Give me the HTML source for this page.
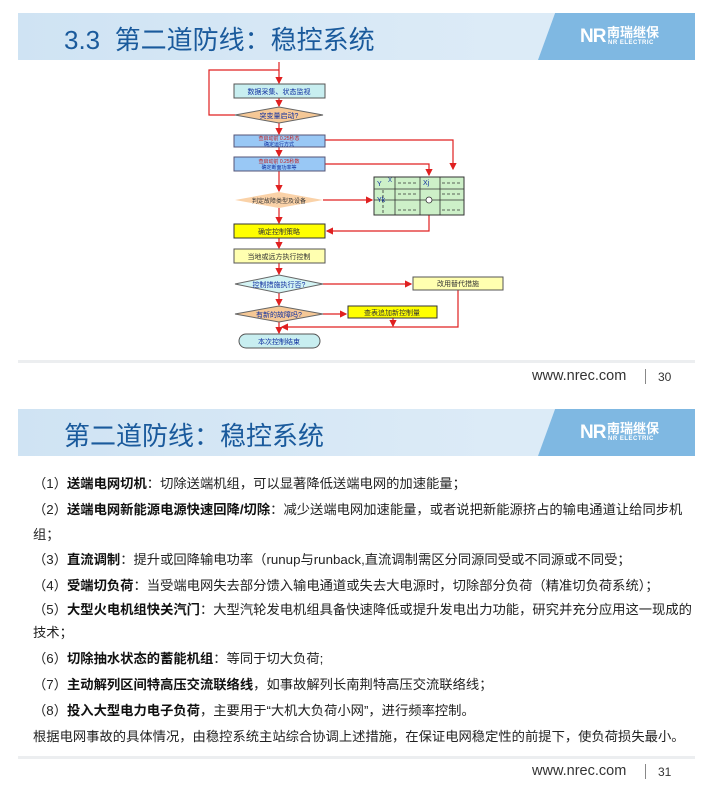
<!DOCTYPE html><html><head><meta charset="utf-8"><style>
body{margin:0;width:717px;height:796px;background:#fff;position:relative;overflow:hidden;font-family:"Liberation Sans","Noto Sans CJK SC",sans-serif}
.hdr{position:absolute;left:18px;width:677px;height:47px;background:linear-gradient(90deg,#cfe3f3,#dcebf7 70%);overflow:hidden}
.hdr .dk{position:absolute;left:520px;top:0;width:200px;height:47px;background:#7fb8e2;transform:skewX(-20deg);transform-origin:0 100%}
.hdr .t{position:absolute;left:46px;top:7px;font-size:26px;color:#1a5a9c;white-space:nowrap}
.logo{position:absolute;left:562px;top:13px;color:#fff;font-weight:bold;line-height:1}
.logo .nr{font-size:19px;position:absolute;left:0;top:1px;letter-spacing:-1px}
.logo .cn{font-size:13px;position:absolute;left:27px;top:0;white-space:nowrap}
.logo .en{font-size:6px;position:absolute;left:28px;top:14px;white-space:nowrap;letter-spacing:.5px}
.foot{position:absolute;font-size:14.5px;color:#333}
.sep{position:absolute;width:1px;height:15px;background:#888}
.ln{position:absolute;height:3px;background:#eceef0;left:18px;width:677px}
.tx{position:absolute;left:33px;font-size:13.3px;color:#222;white-space:nowrap}
.tx b{color:#111}
</style></head><body>
<div class="hdr" style="top:13px"><div class="dk"></div><div class="t">3.3&nbsp; 第二道防线：稳控系统</div><div class="logo"><span class="nr">NR</span><span class="cn">南瑞继保</span><span class="en">NR ELECTRIC</span></div></div>
<svg style="position:absolute;left:0;top:0" width="717" height="360" font-family="Liberation Sans,Noto Sans CJK SC,sans-serif" font-size="7">
<defs><marker id="a" markerWidth="6" markerHeight="6" refX="5" refY="3" orient="auto"><path d="M0,0L6,3L0,6z" fill="#e02020"/></marker></defs>
<g stroke="#e02020" stroke-width="1.2" fill="none">
<path d="M279,62V83" marker-end="url(#a)"/>
<path d="M235,115H209V70H279"/>
<path d="M279,98V106" marker-end="url(#a)"/>
<path d="M279,123V134" marker-end="url(#a)"/>
<path d="M279,147V156" marker-end="url(#a)"/>
<path d="M279,171V191" marker-end="url(#a)"/>
<path d="M279,208V223" marker-end="url(#a)"/>
<path d="M279,238V248" marker-end="url(#a)"/>
<path d="M279,263V274" marker-end="url(#a)"/>
<path d="M279,293V305" marker-end="url(#a)"/>
<path d="M279,322V333" marker-end="url(#a)"/>
<path d="M325,140H453V169" marker-end="url(#a)"/>
<path d="M325,164H429V175" marker-end="url(#a)"/>
<path d="M323,200H372" marker-end="url(#a)"/>
<path d="M429,203V231H327" marker-end="url(#a)"/>
<path d="M323,284H411" marker-end="url(#a)"/>
<path d="M323,314H346" marker-end="url(#a)"/>
<path d="M458,290V327H282" marker-end="url(#a)"/>
<path d="M393,318V326" marker-end="url(#a)"/>
</g>
<rect x="234" y="84" width="91" height="14" fill="#c8eef0" stroke="#555"/><text x="279" y="94" text-anchor="middle" fill="#1030a0">数据采集、状态监视</text>
<path d="M235,115L279,107L323,115L279,123z" fill="#f5c896" stroke="#666"/><text x="279" y="118" text-anchor="middle" fill="#1030a0">突变量启动?</text>
<rect x="234" y="135" width="91" height="12" fill="#99c8f5" stroke="#557"/><text x="279" y="140" text-anchor="middle" font-size="5" fill="#c02020">查启动前 0.25秒态</text><text x="279" y="146" text-anchor="middle" font-size="5" fill="#1030a0">确定运行方式</text>
<rect x="234" y="157" width="91" height="14" fill="#99c8f5" stroke="#557"/><text x="279" y="163" text-anchor="middle" font-size="5" fill="#c02020">查启动前 0.25秒数</text><text x="279" y="169" text-anchor="middle" font-size="5" fill="#1030a0">确定断面功率等</text>
<path d="M235,200L279,192L323,200L279,208z" fill="#fad2a8"/><text x="279" y="203" text-anchor="middle" font-size="6" fill="#333">判定故障类型及设备</text>
<rect x="374" y="177" width="90" height="38" fill="#cdf0c8" stroke="#333"/>
<g stroke="#333" stroke-width=".8"><path d="M395,177V215M420,177V215M440,177V215M374,189H464M374,200H464"/></g>
<g stroke="#333" stroke-dasharray="3,2" stroke-width=".8"><path d="M398,183H418M442,183H462M398,194H418M442,194H462M398,210H418M442,210H462M383,190V215"/></g>
<text x="377" y="186" fill="#1030a0">Y</text><text x="388" y="182" fill="#1030a0" font-size="6">X</text><text x="423" y="185" fill="#1030a0">Xj</text><text x="377" y="202" fill="#1030a0">Yk</text>
<circle cx="429" cy="200" r="3" fill="#fff" stroke="#333" stroke-width=".8"/>
<rect x="234" y="224" width="91" height="14" fill="#ffff00" stroke="#333"/><text x="279" y="234" text-anchor="middle" fill="#333">确定控制策略</text>
<rect x="234" y="249" width="91" height="14" fill="#ffffb0" stroke="#555"/><text x="279" y="259" text-anchor="middle" fill="#333">当地或远方执行控制</text>
<path d="M235,284L279,275L323,284L279,293z" fill="#d4f4f4" stroke="#666"/><text x="279" y="287" text-anchor="middle" fill="#1030a0">控制措施执行否?</text>
<rect x="413" y="277" width="90" height="13" fill="#ffffb0" stroke="#555"/><text x="458" y="286" text-anchor="middle" fill="#333">改用替代措施</text>
<path d="M235,314L279,306L323,314L279,322z" fill="#f5c896" stroke="#666"/><text x="279" y="317" text-anchor="middle" fill="#1030a0">有新的故障吗?</text>
<rect x="348" y="306" width="89" height="12" fill="#ffff00" stroke="#333"/><text x="392" y="315" text-anchor="middle" fill="#333">查表追加新控制量</text>
<rect x="239" y="334" width="81" height="14" rx="7" fill="#c8eef0" stroke="#555"/><text x="279" y="344" text-anchor="middle" fill="#1030a0">本次控制结束</text>
</svg>
<div class="ln" style="top:360px"></div>
<div class="foot" style="left:532px;top:368px">www.nrec.com</div><div class="sep" style="left:645px;top:369px"></div><div class="foot" style="left:658px;top:370px;font-size:12px">30</div>
<div class="hdr" style="top:409px"><div class="dk"></div><div class="t">第二道防线：稳控系统</div><div class="logo"><span class="nr">NR</span><span class="cn">南瑞继保</span><span class="en">NR ELECTRIC</span></div></div>
<div class="tx" style="top:473px">（1）<b>送端电网切机</b>：切除送端机组，可以显著降低送端电网的加速能量；</div>
<div class="tx" style="top:499px">（2）<b>送端电网新能源电源快速回降/切除</b>：减少送端电网加速能量，或者说把新能源挤占的输电通道让给同步机</div>
<div class="tx" style="top:524px">组；</div>
<div class="tx" style="top:549px">（3）<b>直流调制</b>：提升或回降输电功率（runup与runback,直流调制需区分同源同受或不同源或不同受；</div>
<div class="tx" style="top:575px">（4）<b>受端切负荷</b>：当受端电网失去部分馈入输电通道或失去大电源时，切除部分负荷（精准切负荷系统）；</div>
<div class="tx" style="top:599px">（5）<b>大型火电机组快关汽门</b>：大型汽轮发电机组具备快速降低或提升发电出力功能，研究并充分应用这一现成的</div>
<div class="tx" style="top:622px">技术；</div>
<div class="tx" style="top:648px">（6）<b>切除抽水状态的蓄能机组</b>：等同于切大负荷;</div>
<div class="tx" style="top:674px">（7）<b>主动解列区间特高压交流联络线</b>，如事故解列长南荆特高压交流联络线；</div>
<div class="tx" style="top:700px">（8）<b>投入大型电力电子负荷</b>，主要用于“大机大负荷小网”，进行频率控制。</div>
<div class="tx" style="top:726px">根据电网事故的具体情况，由稳控系统主站综合协调上述措施，在保证电网稳定性的前提下，使负荷损失最小。</div>
<div class="ln" style="top:756px"></div>
<div class="foot" style="left:532px;top:763px">www.nrec.com</div><div class="sep" style="left:645px;top:764px"></div><div class="foot" style="left:658px;top:765px;font-size:12px">31</div>
</body></html>
